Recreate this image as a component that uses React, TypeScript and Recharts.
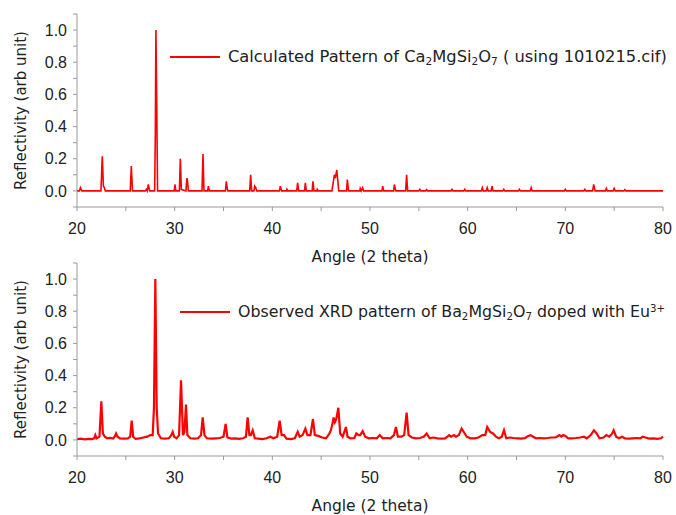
import { LineChart, Line, XAxis, YAxis, Legend } from 'recharts'

// calculated pattern (Ca2MgSi2O7, 1010215.cif)
const calcAngle = [
  20.0, 20.25, 20.35, 20.5, 22.45, 22.59, 22.7, 22.8, 22.9, 25.45, 25.56, 25.68,
  27.0, 27.1, 27.2, 27.3, 27.45, 27.95, 28.02, 28.08, 28.17, 28.25, 29.95, 30.03,
  30.12, 30.48, 30.58, 30.68, 31.15, 31.26, 31.32, 31.4, 32.8, 32.9, 33.0, 33.38,
  33.45, 33.55, 35.2, 35.29, 35.4, 35.45, 37.68, 37.78, 37.88, 38.12, 38.19, 38.3,
  38.4, 40.72, 40.82, 40.95, 41.45, 41.5, 41.6, 42.5, 42.59, 42.7, 43.3, 43.38,
  43.48, 44.08, 44.16, 44.26, 44.55, 44.6, 44.7, 46.1, 46.25, 46.35, 46.45, 46.6,
  46.72, 46.8, 47.6, 47.68, 47.8, 48.95, 49.0, 49.1, 49.25, 49.35, 51.22, 51.3,
  51.4, 52.42, 52.5, 52.6, 52.65, 53.65, 53.75, 53.85, 55.0, 55.1, 55.2, 55.7,
  55.8, 55.9, 58.3, 58.4, 58.5, 59.6, 59.7, 59.8, 61.4, 61.5, 61.6, 61.9,
  62.0, 62.1, 62.4, 62.5, 62.6, 63.6, 63.7, 63.8, 65.2, 65.3, 65.4, 66.4,
  66.5, 66.6, 69.9, 70.0, 70.1, 71.9, 72.0, 72.1, 72.8, 72.9, 73.05, 74.1,
  74.2, 74.3, 74.9, 75.0, 75.1, 76.0, 76.1, 76.2, 80.0,
]
const calcValue = [
  0, 0, 0.02, 0, 0, 0.215, 0.03, 0.02, 0, 0, 0.155, 0,
  0, 0.01, 0, 0.04, 0, 0, 0.35, 1.0, 0.5, 0, 0, 0.04,
  0, 0, 0.2, 0.01, 0, 0.08, 0.06, 0, 0, 0.23, 0, 0,
  0.03, 0, 0, 0.06, 0.01, 0, 0, 0.1, 0, 0, 0.03, 0.02,
  0, 0, 0.03, 0, 0, 0.01, 0, 0, 0.05, 0, 0, 0.05,
  0, 0, 0.06, 0, 0, 0.01, 0, 0, 0.06, 0.1, 0.08, 0.13,
  0.05, 0, 0, 0.07, 0, 0, 0.015, 0, 0.02, 0, 0, 0.03,
  0, 0, 0.04, 0.01, 0, 0, 0.1, 0, 0, 0.01, 0, 0,
  0.008, 0, 0, 0.01, 0, 0, 0.01, 0, 0, 0.02, 0, 0,
  0.02, 0, 0, 0.03, 0, 0, 0.01, 0, 0, 0.01, 0, 0,
  0.02, 0, 0, 0.01, 0, 0, 0.01, 0, 0, 0.04, 0, 0,
  0.015, 0, 0, 0.015, 0, 0, 0.008, 0, 0,
]

// observed pattern (Ba2MgSi2O7 : Eu3+)
const obsAngle = [
  20.0, 20.4, 20.8, 21.2, 21.5, 21.75, 21.88, 22.0, 22.3, 22.49, 22.65, 22.85,
  23.1, 23.4, 23.7, 23.9, 24.0, 24.15, 24.4, 24.8, 25.2, 25.45, 25.6, 25.75,
  26.0, 26.4, 26.8, 27.2, 27.5, 27.75, 27.88, 28.02, 28.16, 28.3, 28.6, 29.0,
  29.4, 29.65, 29.8, 29.95, 30.2, 30.45, 30.65, 30.85, 31.0, 31.16, 31.3, 31.6,
  32.0, 32.4, 32.7, 32.87, 33.05, 33.3, 33.8, 34.2, 34.6, 35.0, 35.22, 35.4,
  35.8, 36.2, 36.6, 37.0, 37.3, 37.47, 37.65, 37.8, 37.99, 38.2, 38.6, 39.0,
  39.4, 39.8, 40.1, 40.5, 40.75, 40.95, 41.2, 41.45, 41.9, 42.3, 42.6, 42.8,
  43.1, 43.38, 43.6, 43.9, 44.16, 44.35, 44.7, 45.1, 45.5, 45.85, 46.0, 46.15,
  46.28, 46.4, 46.55, 46.76, 46.95, 47.2, 47.54, 47.7, 48.0, 48.4, 48.6, 48.85,
  49.0, 49.25, 49.5, 49.9, 50.3, 50.7, 51.0, 51.3, 51.7, 52.1, 52.45, 52.66,
  52.85, 53.2, 53.5, 53.75, 53.95, 54.3, 54.7, 55.1, 55.5, 55.8, 56.1, 56.5,
  56.9, 57.3, 57.7, 58.1, 58.3, 58.6, 58.8, 59.1, 59.38, 59.7, 59.9, 60.3,
  60.7, 61.1, 61.5, 61.8, 62.0, 62.3, 62.6, 62.9, 63.2, 63.5, 63.72, 63.95,
  64.3, 64.7, 65.1, 65.5, 65.9, 66.2, 66.45, 66.7, 67.0, 67.4, 67.8, 68.2,
  68.6, 69.0, 69.4, 69.6, 69.8, 70.0, 70.3, 70.7, 71.1, 71.5, 71.9, 72.2,
  72.6, 72.93, 73.2, 73.5, 73.9, 74.2, 74.5, 74.8, 74.95, 75.2, 75.5, 75.8,
  76.1, 76.5, 76.9, 77.3, 77.7, 77.9, 78.2, 78.6, 79.0, 79.4, 79.8, 80.0,
]
const obsValue = [
  0.005, 0.008, 0.004, 0.007, 0.005, 0.01, 0.03, 0.01, 0.02, 0.24, 0.04, 0.02,
  0.01, 0.012, 0.008, 0.025, 0.04, 0.02, 0.01, 0.008, 0.01, 0.02, 0.12, 0.02,
  0.006, 0.01, 0.015, 0.02, 0.03, 0.03, 0.2, 1.0, 0.2, 0.04, 0.01, 0.008,
  0.01, 0.03, 0.05, 0.02, 0.01, 0.03, 0.37, 0.03, 0.05, 0.22, 0.03, 0.01,
  0.008, 0.01, 0.03, 0.14, 0.03, 0.01, 0.008, 0.01, 0.012, 0.02, 0.1, 0.015,
  0.008, 0.01, 0.006, 0.01, 0.02, 0.14, 0.03, 0.03, 0.06, 0.01, 0.008, 0.005,
  0.01, 0.02, 0.01, 0.02, 0.12, 0.03, 0.03, 0.008, 0.005, 0.01, 0.05, 0.02,
  0.03, 0.07, 0.03, 0.03, 0.13, 0.03, 0.025, 0.015, 0.01, 0.04, 0.06, 0.1,
  0.14, 0.11, 0.13, 0.2, 0.04, 0.02, 0.08, 0.02, 0.01, 0.012, 0.04, 0.03,
  0.03, 0.055, 0.02, 0.01, 0.012, 0.01, 0.03, 0.01, 0.012, 0.01, 0.03, 0.08,
  0.02, 0.02, 0.03, 0.17, 0.03, 0.015, 0.01, 0.012, 0.02, 0.04, 0.01, 0.015,
  0.01, 0.008, 0.01, 0.03, 0.02, 0.03, 0.02, 0.03, 0.07, 0.04, 0.02, 0.01,
  0.01, 0.015, 0.03, 0.03, 0.08, 0.05, 0.04, 0.02, 0.01, 0.02, 0.06, 0.01,
  0.015, 0.012, 0.01, 0.008, 0.012, 0.025, 0.03, 0.02, 0.01, 0.012, 0.01, 0.012,
  0.015, 0.015, 0.03, 0.02, 0.03, 0.025, 0.01, 0.01, 0.012, 0.015, 0.02, 0.01,
  0.03, 0.06, 0.04, 0.01, 0.015, 0.03, 0.02, 0.04, 0.06, 0.02, 0.01, 0.02,
  0.01, 0.008, 0.01, 0.012, 0.01, 0.02, 0.015, 0.008, 0.01, 0.006, 0.01, 0.02,
]

const xTicks = [20, 25, 30, 35, 40, 45, 50, 55, 60, 65, 70, 75, 80]
const yTicks = [-0.1, 0, 0.1, 0.2, 0.3, 0.4, 0.5, 0.6, 0.7, 0.8, 0.9, 1.0, 1.1]

const calcData = calcAngle.map((a, i) => ({ angle: a, value: calcValue[i] }))
const obsData = obsAngle.map((a, i) => ({ angle: a, value: obsValue[i] }))

const RED = '#ff0000'
const AXIS = '#9a9a9a'
const tickFont = { fill: '#222', fontSize: 16, fontFamily: 'Liberation Sans, Arial, sans-serif' }
const titleFont = 'DejaVu Sans, sans-serif'

const fmtX = (v: number) => (v % 10 === 0 ? String(v) : '')
const fmtY = (v: number) => {
  const r = Math.round(v * 10)
  return r >= 0 && r <= 10 && r % 2 === 0 ? v.toFixed(1) : ''
}

function LegendBox({ children, size }: { children: React.ReactNode; size: number }) {
  return (
    <div style={{ display: 'flex', alignItems: 'center', fontFamily: titleFont, fontSize: size, color: '#222', whiteSpace: 'nowrap' }}>
      <svg width={50} height={4} style={{ marginRight: 8 }}>
        <line x1={0} y1={2} x2={50} y2={2} stroke={RED} strokeWidth={2} />
      </svg>
      <span>{children}</span>
    </div>
  )
}

const subStyle = { fontSize: '0.65em', verticalAlign: '-0.25em' }
const supStyle = { fontSize: '0.65em', verticalAlign: '0.5em' }

function Pattern({
  data,
  legend,
  legendTop,
  legendLeft,
  legendSize,
  strokeWidth,
}: {
  data: { angle: number; value: number }[]
  legend: React.ReactNode
  legendTop: number
  legendLeft: number
  legendSize: number
  strokeWidth: number
}) {
  return (
    <LineChart width={676} height={276} data={data} margin={{ top: 14, right: 13, left: 0, bottom: 0 }}>
      <XAxis
        dataKey="angle"
        type="number"
        domain={[20, 80]}
        ticks={xTicks}
        tickFormatter={fmtX}
        tick={tickFont}
        tickSize={4}
        tickMargin={12}
        stroke={AXIS}
        height={69}
        label={{ value: 'Angle (2 theta)', position: 'insideBottom', offset: 14, style: { fontFamily: titleFont, fontSize: 15.5, fill: '#222' } }}
      />
      <YAxis
        type="number"
        domain={[-0.1, 1.1]}
        ticks={yTicks}
        tickFormatter={fmtY}
        tick={tickFont}
        tickSize={4}
        tickMargin={6}
        stroke={AXIS}
        width={77}
        interval={0}
        allowDataOverflow
        label={{
          value: 'Reflectivity (arb unit)',
          angle: -90,
          position: 'insideLeft',
          offset: 21,
          style: { textAnchor: 'middle', fontFamily: titleFont, fontSize: 15, fill: '#222' },
        }}
      />
      <Legend
        content={() => <LegendBox size={legendSize}>{legend}</LegendBox>}
        wrapperStyle={{ top: legendTop, left: legendLeft, width: 'auto', height: 0, overflow: 'visible' }}
      />
      <Line
        type="linear"
        dataKey="value"
        stroke={RED}
        strokeWidth={strokeWidth}
        dot={false}
        isAnimationActive={false}
      />
    </LineChart>
  )
}

export default function App() {
  return (
    <div style={{ position: 'absolute', left: 0, top: 0, width: 676, height: 515, overflow: 'hidden', background: '#fff' }}>
      <div style={{ position: 'absolute', left: 0, top: 0 }}>
        <Pattern
          data={calcData}
          strokeWidth={1.6}
          legendTop={47}
          legendLeft={170}
          legendSize={16.3}
          legend={
            <>
              Calculated Pattern of Ca<sub style={subStyle}>2</sub>MgSi<sub style={subStyle}>2</sub>O
              <sub style={subStyle}>7</sub> ( using 1010215.cif)
            </>
          }
        />
      </div>
      <div style={{ position: 'absolute', left: 0, top: 249 }}>
        <Pattern
          data={obsData}
          strokeWidth={2.2}
          legendTop={53}
          legendLeft={180}
          legendSize={15.8}
          legend={
            <>
              Observed XRD pattern of Ba<sub style={subStyle}>2</sub>MgSi<sub style={subStyle}>2</sub>O
              <sub style={subStyle}>7</sub> doped with Eu<sup style={supStyle}>3+</sup>
            </>
          }
        />
      </div>
    </div>
  )
}
